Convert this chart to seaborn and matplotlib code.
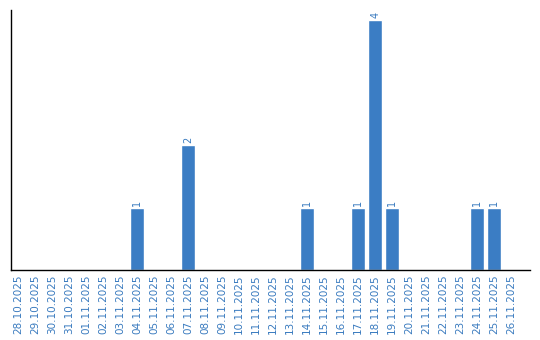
import matplotlib
matplotlib.use("Agg")
import matplotlib.pyplot as plt
import seaborn as sns
import pandas as pd

dates = ["28.10.2025", "29.10.2025", "30.10.2025", "31.10.2025", "01.11.2025",
         "02.11.2025", "03.11.2025", "04.11.2025", "05.11.2025", "06.11.2025",
         "07.11.2025", "08.11.2025", "09.11.2025", "10.11.2025", "11.11.2025",
         "12.11.2025", "13.11.2025", "14.11.2025", "15.11.2025", "16.11.2025",
         "17.11.2025", "18.11.2025", "19.11.2025", "20.11.2025", "21.11.2025",
         "22.11.2025", "23.11.2025", "24.11.2025", "25.11.2025", "26.11.2025"]
counts = [0, 0, 0, 0, 0, 0, 0, 1, 0, 0,
          2, 0, 0, 0, 0, 0, 0, 1, 0, 0,
          1, 4, 1, 0, 0, 0, 0, 1, 1, 0]

df = pd.DataFrame({"date": dates, "count": counts})

sns.set_style("white")
fig = plt.figure(figsize=(5.4, 3.4), dpi=100)
ax = fig.add_axes([11/540, 70/340, 519/540, 260/340])

bar_color = "#3b7dc4"
text_color = "#3a7bbf"
sns.barplot(data=df, x="date", y="count", color=bar_color, width=0.82,
            saturation=1, ax=ax)

for i, v in enumerate(counts):
    if v > 0:
        ax.text(i, v + 0.03, str(v), rotation=90, ha="center", va="bottom",
                fontsize=7, color=text_color)

ax.set_xlim(-0.41, 30.1)
ax.set_ylim(0, 4.16)
ax.set_xlabel("")
ax.set_ylabel("")
ax.set_yticks([])
ax.tick_params(axis="x", length=0, pad=3, labelsize=7.5, labelcolor=text_color,
               rotation=90)
for s in ["top", "right"]:
    ax.spines[s].set_visible(False)
for s in ["left", "bottom"]:
    ax.spines[s].set_color("black")
    ax.spines[s].set_linewidth(1)

fig.savefig("out.png", dpi=100)
